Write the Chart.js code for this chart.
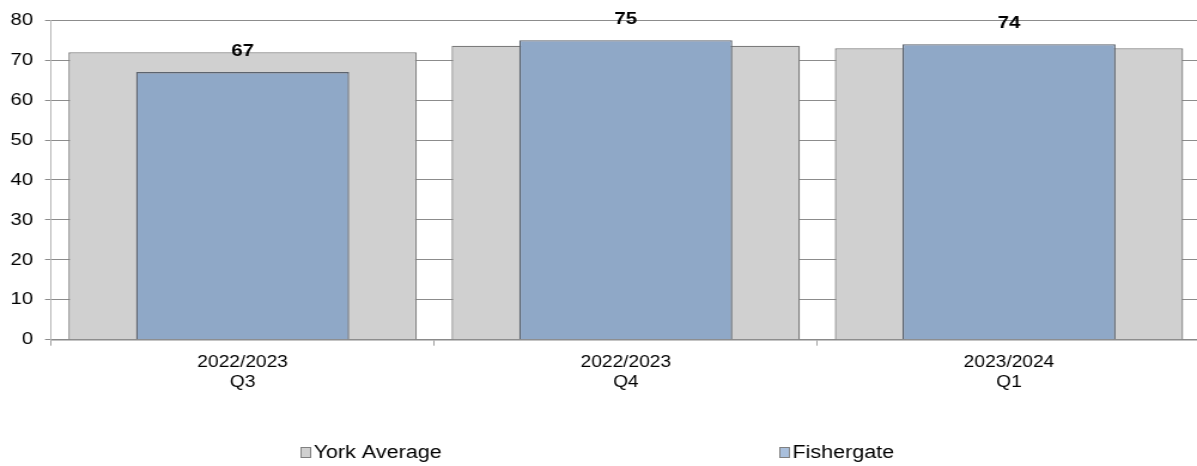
<!DOCTYPE html>
<html><head><meta charset="utf-8">
<script src="https://cdn.jsdelivr.net/npm/chart.js@4.4.0/dist/chart.umd.min.js"></script>
<style>
html,body{margin:0;padding:0;background:#fff;overflow:hidden;width:1197px;height:466px}
#wrap{width:1003px;height:466px;transform:scaleX(1.197);transform-origin:0 0}
canvas{display:block}
</style></head>
<body><div id="wrap"><canvas id="c" width="1003" height="466"></canvas></div>
<script>
const categories = [["2022/2023","Q3"],["2022/2023","Q4"],["2023/2024","Q1"]];
const yorkAverage = [72, 73.6, 73];
const fishergate = [67, 75, 74];
const seriesNames = ["York Average", "Fishergate"];
const yTicks = [0, 10, 20, 30, 40, 50, 60, 70, 80];

const FONT = '"Liberation Sans", Arial, sans-serif';
const legendX = [250.6, 650.8];

const valueLabels = {
  id: 'valueLabels',
  afterDraw(chart) {
    const ctx = chart.ctx;
    const meta = chart.getDatasetMeta(1);
    ctx.save();
    ctx.font = 'bold 17px ' + FONT;
    ctx.fillStyle = '#000';
    ctx.textAlign = 'center';
    ctx.textBaseline = 'middle';
    meta.data.forEach((bar, i) => {
      ctx.fillText(String(chart.data.datasets[1].data[i]), bar.x, bar.y - 20.5);
    });
    ctx.restore();
  }
};

const bottomLegend = {
  id: 'bottomLegend',
  afterDraw(chart) {
    const ctx = chart.ctx;
    ctx.save();
    ctx.font = '18px ' + FONT;
    ctx.textBaseline = 'middle';
    ctx.textAlign = 'left';
    chart.data.datasets.forEach((ds, i) => {
      const x = Math.round(legendX[i]);
      const y = 452;
      ctx.fillStyle = ds.legendFill;
      ctx.fillRect(x, y - 5, 9, 11);
      ctx.strokeStyle = '#808080';
      ctx.lineWidth = 1;
      ctx.strokeRect(x + 0.5, y - 4.5, 8, 10);
      ctx.fillStyle = '#000';
      ctx.fillText(ds.label, x + 11, y + 1);
    });
    ctx.restore();
  }
};

new Chart(document.getElementById('c'), {
  type: 'bar',
  data: {
    labels: categories,
    datasets: [
      {
        label: seriesNames[0],
        data: yorkAverage,
        backgroundColor: '#d0d0d0',
        legendFill: '#d0d0d0',
        borderColor: '#7c7c7c',
        borderWidth: 1.3,
        barPercentage: 0.909,
        categoryPercentage: 1,
        grouped: false,
        order: 2
      },
      {
        label: seriesNames[1],
        data: fishergate,
        backgroundColor: '#8fa8c7',
        legendFill: '#a9bfdc',
        borderColor: '#5c636d',
        borderWidth: 1.3,
        barPercentage: 0.556,
        categoryPercentage: 1,
        grouped: false,
        order: 1
      }
    ]
  },
  options: {
    responsive: false,
    animation: false,
    devicePixelRatio: 1,
    layout: { padding: { top: 17, left: 0, right: 0, bottom: 0 } },
    plugins: { legend: { display: false }, tooltip: { enabled: false } },
    scales: {
      x: {
        grid: { offset: true, drawOnChartArea: false, drawTicks: true, tickLength: 6, color: '#a0a0a0' },
        border: { color: '#8a8a8a', width: 1.5 },
        ticks: { font: { size: 16, family: FONT, lineHeight: 1.3 }, color: '#000', padding: 6, maxRotation: 0, autoSkip: false },
        afterFit(s) { s.height = 126.3; }
      },
      y: {
        min: yTicks[0],
        max: yTicks[yTicks.length - 1],
        z: 1,
        ticks: { stepSize: yTicks[1] - yTicks[0], font: { size: 17, family: FONT }, color: '#000', padding: 10 },
        grid: { color: 'rgba(0,0,0,0.45)', tickLength: 5, drawTicks: true },
        border: { color: '#b8b8b8' },
        afterFit(s) { s.width = 42.6; }
      }
    }
  },
  plugins: [valueLabels, bottomLegend]
});
</script>
</body></html>
